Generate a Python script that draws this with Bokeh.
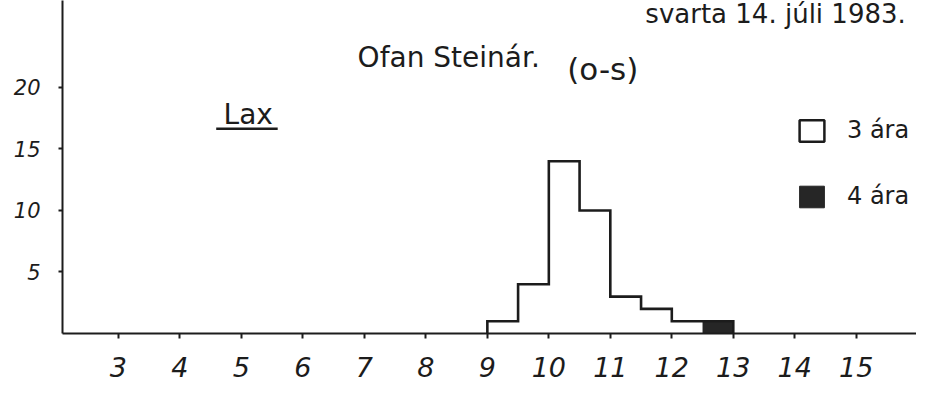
from bokeh.plotting import figure
from bokeh.models import (ColumnDataSource, FixedTicker, Label, Legend, LegendItem,
                          BoxAnnotation, Range1d)
from bokeh.embed import file_html
from bokeh.resources import INLINE

# ---- data ----
bin_left = [9.0, 9.5, 10.0, 10.5, 11.0, 11.5, 12.0, 12.5]
bin_width = 0.5
count_3ara = [1, 4, 14, 10, 3, 2, 1, 0]   # 3 ára (white)
count_4ara = [0, 0, 0, 0, 0, 0, 0, 1]     # 4 ára (black)
x_ticks = [3, 4, 5, 6, 7, 8, 9, 10, 11, 12, 13, 14, 15]
y_ticks = [5, 10, 15, 20]
series_names = ["3 ára", "4 ára"]
title_text = "Ofan Steinár."
title_code = "(o-s)"
species = "Lax"
top_note = "svarta  14. júli 1983."

INK = "#1c1c1c"
DARK = "#262626"
FONT = "DejaVu Sans"
NAN = float("nan")

p = figure(width=916, height=398, output_backend="svg", toolbar_location=None,
           x_range=Range1d(2.09, 15.98), y_range=Range1d(0, 27.07),
           min_border_left=62, min_border_right=0, min_border_top=0,
           min_border_bottom=65)
p.outline_line_color = None
p.xgrid.visible = False
p.ygrid.visible = False
p.background_fill_color = "white"
p.border_fill_color = "white"

# bars
right = [l + bin_width for l in bin_left]
total = [a + b for a, b in zip(count_3ara, count_4ara)]
src3 = ColumnDataSource(dict(left=bin_left, right=right, bottom=[0] * len(bin_left), top=count_3ara))
src4 = ColumnDataSource(dict(left=bin_left, right=right, bottom=count_3ara, top=total))
p.quad(left="left", right="right", bottom="bottom", top="top", source=src3,
       fill_color="white", line_alpha=0)
p.quad(left="left", right="right", bottom="bottom", top="top", source=src4,
       fill_color=DARK, line_alpha=0)

# step outline of the histogram
xs, ys = [bin_left[0]], [0]
for l, r, t in zip(bin_left, right, total):
    xs += [l, r]
    ys += [t, t]
xs.append(right[-1])
ys.append(0)
p.line(xs, ys, line_color=INK, line_width=2.6, line_join="miter")

# legend proxies (not drawn in the plot: NaN coordinates)
proxy = dict(left=[NAN], right=[NAN], bottom=[NAN], top=[NAN])
r_w = p.quad(left="left", right="right", bottom="bottom", top="top",
             source=ColumnDataSource(proxy), fill_color="white", line_color=INK, line_width=2.5)
r_b = p.quad(left="left", right="right", bottom="bottom", top="top",
             source=ColumnDataSource(dict(proxy)), fill_color=DARK, line_color=DARK, line_width=1)
legend = Legend(items=[LegendItem(label=series_names[0], renderers=[r_w]),
                       LegendItem(label=series_names[1], renderers=[r_b])],
                location=(734, 123), padding=0, margin=0, spacing=38,
                glyph_width=31, glyph_height=27, label_height=27, label_standoff=20,
                label_text_font=FONT, label_text_font_size="24px", label_text_color=INK,
                border_line_alpha=0, background_fill_alpha=0)
p.add_layout(legend, "center")

# axes
for ax in (p.xaxis[0], p.yaxis[0]):
    ax.axis_line_color = INK
    ax.axis_line_width = 2
    ax.major_tick_line_color = INK
    ax.major_tick_line_width = 2
    ax.minor_tick_line_color = None
    ax.major_tick_in = 0
    ax.major_label_text_font = FONT
    ax.major_label_text_font_style = "italic"
    ax.major_label_text_color = INK
p.xaxis.ticker = FixedTicker(ticks=x_ticks)
p.yaxis.ticker = FixedTicker(ticks=y_ticks)
p.xaxis.major_tick_out = 5
p.yaxis.major_tick_out = 4
p.xaxis.major_label_text_font_size = "27px"
p.yaxis.major_label_text_font_size = "21px"
p.xaxis.major_label_standoff = 18
p.yaxis.major_label_standoff = 18

# texts
p.add_layout(Label(x=6.89, y=22.44, text=title_text, text_font=FONT, text_font_size="28px",
                   text_color=INK, text_baseline="alphabetic"))
p.add_layout(Label(x=10.30, y=21.47, text=title_code, text_font=FONT, text_font_size="31px",
                   text_color=INK, text_baseline="alphabetic"))
p.add_layout(Label(x=4.71, y=17.81, text=species, text_font=FONT, text_font_size="28px",
                   text_color=INK, text_baseline="alphabetic"))
p.add_layout(BoxAnnotation(left=4.59, right=5.59, bottom=16.55, top=16.75,
                           fill_color=INK, fill_alpha=1, line_alpha=0))
p.add_layout(Label(x=15.94, y=26.0, text=top_note, text_font=FONT, text_font_size="26px",
                   text_color=INK, text_baseline="alphabetic", text_align="right"))

open("out.html", "w").write(file_html(p, INLINE))
